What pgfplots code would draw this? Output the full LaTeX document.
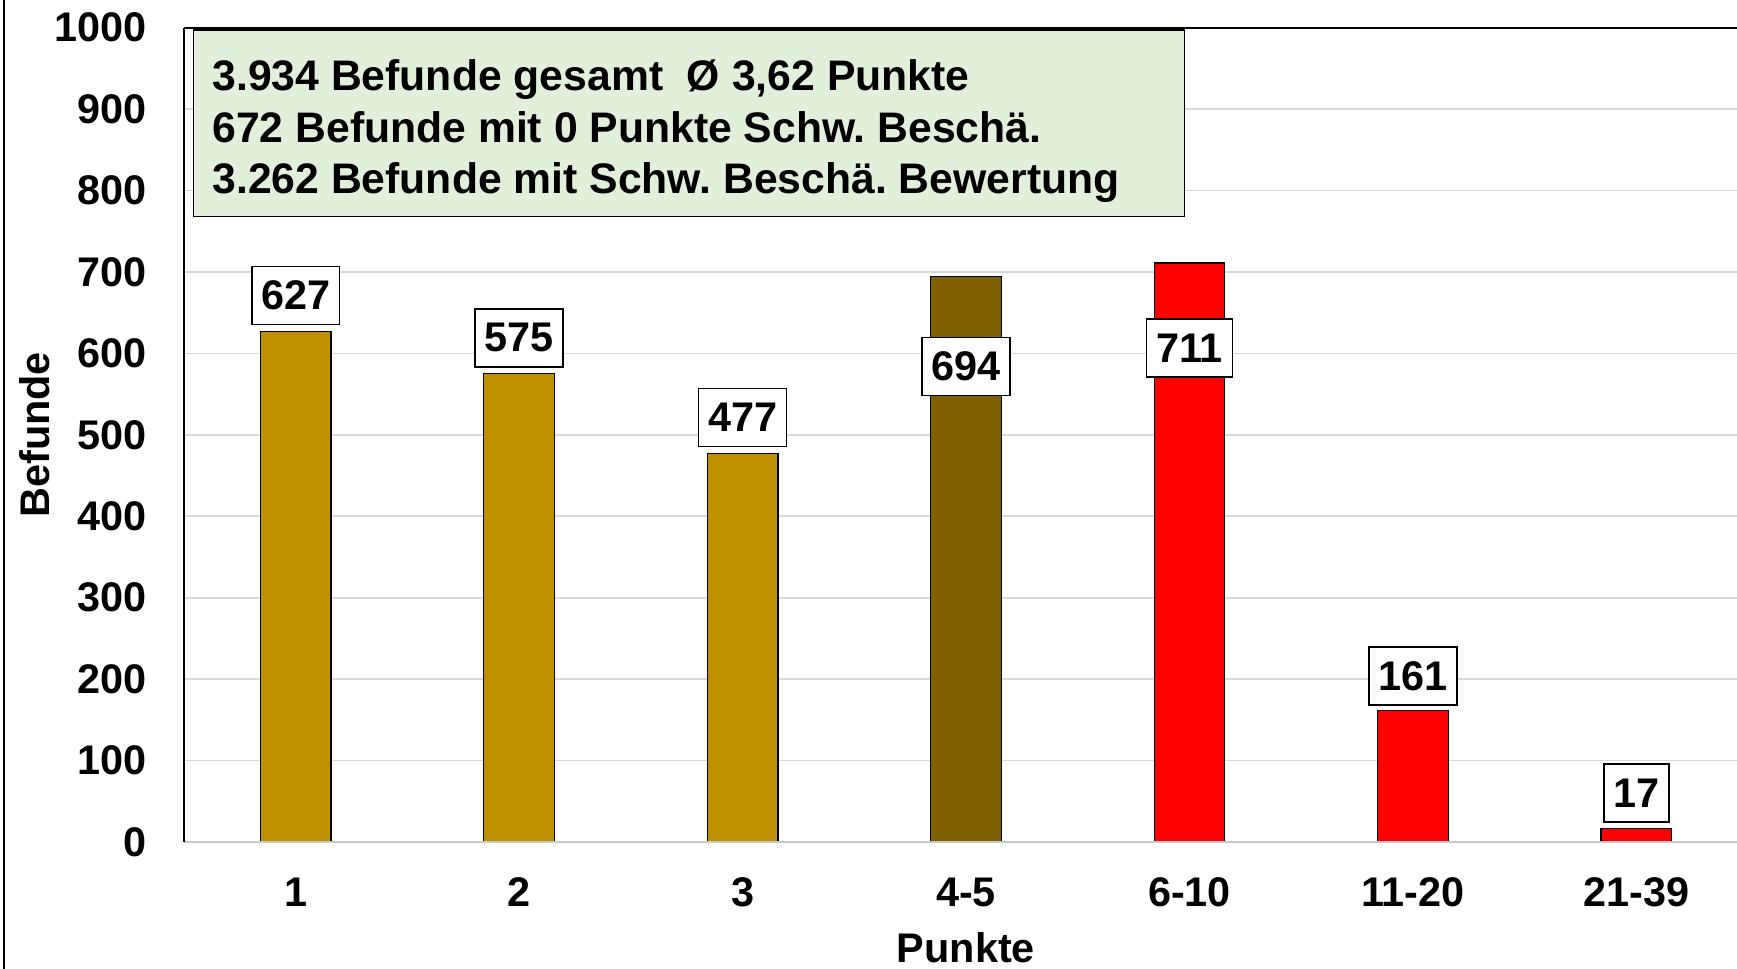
\documentclass[border=0pt]{standalone}
\usepackage{fontspec}
\setmainfont{Liberation Sans}
\usepackage{pgfplots}
\pgfplotsset{compat=1.18}
\definecolor{gold}{RGB}{191,144,0}
\definecolor{dgold}{RGB}{127,96,0}
\definecolor{boxgreen}{RGB}{226,239,218}
\definecolor{gridgray}{RGB}{217,217,217}
\definecolor{axgray}{RGB}{200,200,200}

\newcommand{\chfont}{\fontsize{20.7}{24}\selectfont\bfseries}
\newcommand{\boxfont}{\fontsize{21.35}{25.75}\selectfont\bfseries\frenchspacing}

\begin{document}
\begin{tikzpicture}
\begin{axis}[
  at={(0,0)}, anchor=south west,
  scale only axis, width=776.5pt, height=407.15pt,
  xmin=-0.5, xmax=6.45, ymin=0, ymax=1000,
  ytick={0,100,...,1000},
  xtick={0,...,6}, xticklabels={1,2,3,4-5,6-10,11-20,21-39},
  major tick length=0pt,
  ymajorgrids, grid style={gridgray, line width=0.8pt},
  axis line style={draw=none},
  /pgf/number format/assume math mode=true,
  /pgf/number format/1000 sep={},
  tick label style={font=\chfont, text=black},
  yticklabel style={anchor=east, inner sep=0pt, xshift=-18.5pt},
  xticklabel style={anchor=center, inner sep=0pt, yshift=-25pt},
  xlabel={Punkte}, ylabel={Befunde},
  label style={font=\chfont},
  xlabel style={at={(axis description cs:0.5035,-0.130)}, anchor=center, inner sep=0pt},
  ylabel style={at={(axis description cs:-0.0959,0.5)}, anchor=center, inner sep=0pt},
  ybar, bar width=35.35pt,
  clip=false,
  nodes near coords,
  every node near coord/.append style={draw=black, fill=white, line width=0.75pt, inner xsep=4.7pt,
     minimum height=29pt, anchor=center, font=\chfont, text=black},
]
\addplot[fill=gold, draw=black, line width=0.6pt, bar shift=0pt,
  every node near coord/.append style={yshift=18pt}]
  coordinates {(0,627) (1,575) (2,477)};
\addplot[fill=dgold, draw=black, line width=0.6pt, bar shift=0pt,
  every node near coord/.append style={yshift=-44.9pt}]
  coordinates {(3,694)};
\addplot[fill=red, draw=black, line width=0.6pt, bar shift=0pt,
  every node near coord/.append style={yshift=-42.4pt}]
  coordinates {(4,711)};
\addplot[fill=red, draw=black, line width=0.6pt, bar shift=0pt,
  every node near coord/.append style={yshift=17.5pt}]
  coordinates {(5,161) (6,17)};
\end{axis}
% axis frame lines
\draw[axgray, line width=0.8pt] (0,0) -- (776.5pt,0);
\draw[black, line width=0.6pt] (0,0) -- (0,407.15pt);
\draw[black, line width=1pt] (0,407.15pt) -- (776.5pt,407.15pt);
% info box
\draw[black, line width=0.75pt, fill=boxgreen] (4.65pt,406pt) rectangle (500.15pt,312.65pt);
\node[anchor=base west, inner sep=0pt, font=\boxfont] at (14pt,375.5pt) {3.934 Befunde gesamt\ \ Ø 3,62 Punkte};
\node[anchor=base west, inner sep=0pt, font=\boxfont] at (14pt,349.85pt) {672 Befunde mit 0 Punkte Schw. Beschä.};
\node[anchor=base west, inner sep=0pt, font=\boxfont] at (14pt,324pt) {3.262 Befunde mit Schw. Beschä. Bewertung};
% outer chart frame (left edge)
\draw[black, line width=0.75pt] (-90pt,-63.5pt) -- (-90pt,421pt);
\pgfresetboundingbox
\path[use as bounding box] (-92pt,-63.5pt) rectangle (776.5pt,421pt);
\end{tikzpicture}
\end{document}
